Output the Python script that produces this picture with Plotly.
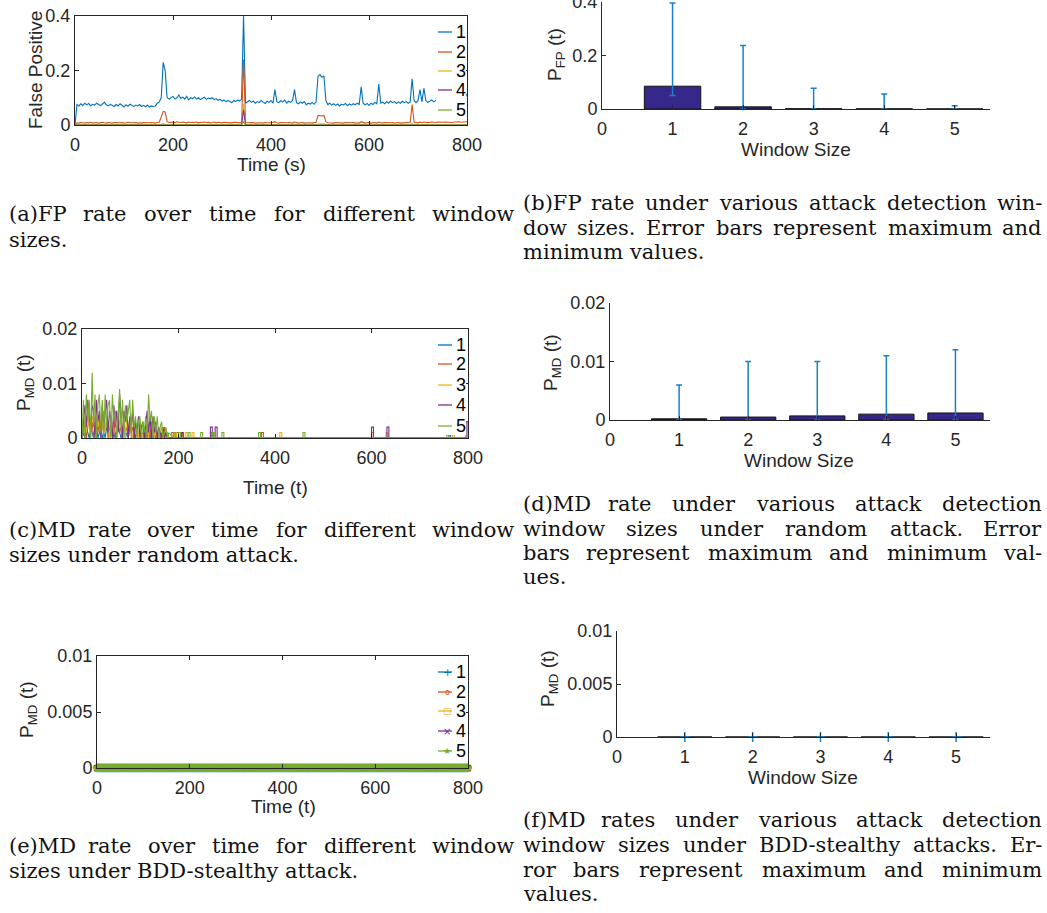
import plotly.graph_objects as go

# ---------------- DATA ----------------
# (a) false-positive rate over time, sampled every 4 s
t_a = list(range(0, 801, 4))
fp_w1 = [0.0, 0.075, 0.07, 0.078, 0.072, 0.08, 0.074, 0.079, 0.07, 0.076,
         0.073, 0.08, 0.075, 0.071, 0.077, 0.083, 0.074, 0.07, 0.076, 0.073,
         0.068, 0.075, 0.07, 0.078, 0.072, 0.066, 0.074, 0.069, 0.076, 0.071,
         0.068, 0.073, 0.07, 0.075, 0.068, 0.072, 0.067, 0.073, 0.066, 0.07,
         0.068, 0.07, 0.08, 0.085, 0.1, 0.23, 0.2, 0.1, 0.095, 0.1,
         0.105, 0.095, 0.1, 0.11, 0.098, 0.102, 0.095, 0.105, 0.092, 0.1,
         0.097, 0.103, 0.095, 0.1, 0.093, 0.098, 0.102, 0.094, 0.099, 0.096,
         0.1, 0.093, 0.097, 0.09, 0.095, 0.088, 0.092, 0.085, 0.09, 0.087,
         0.082, 0.09, 0.086, 0.092, 0.088, 0.095, 0.4, 0.08, 0.085, 0.09,
         0.083, 0.088, 0.08, 0.086, 0.082, 0.09, 0.084, 0.079, 0.087, 0.083,
         0.09, 0.08, 0.13, 0.085, 0.082, 0.09, 0.084, 0.092, 0.08, 0.087,
         0.083, 0.09, 0.13, 0.082, 0.078, 0.085, 0.08, 0.086, 0.074, 0.08,
         0.077, 0.083, 0.076, 0.085, 0.18, 0.185, 0.175, 0.18, 0.09, 0.075,
         0.08, 0.073, 0.078, 0.072, 0.077, 0.07, 0.076, 0.074, 0.079, 0.071,
         0.077, 0.073, 0.078, 0.074, 0.08, 0.075, 0.14, 0.08, 0.074, 0.079,
         0.072, 0.08, 0.075, 0.083, 0.078, 0.15, 0.08, 0.084, 0.078, 0.086,
         0.08, 0.088, 0.082, 0.086, 0.079, 0.085, 0.08, 0.087, 0.082, 0.086,
         0.08, 0.085, 0.17, 0.09, 0.082, 0.09, 0.13, 0.085, 0.135, 0.09,
         0.083, 0.088, 0.092, 0.085, 0.09, 0.095, 0.088, 0.09, 0.087, 0.092,
         0.089, 0.091, 0.088, 0.09, 0.093, 0.089, 0.091, 0.094, 0.09, 0.1,
         0.115]
fp_w2 = [0.0, 0.008, 0.007, 0.009, 0.008, 0.007, 0.009, 0.008, 0.01, 0.007,
         0.008, 0.009, 0.007, 0.008, 0.01, 0.008, 0.007, 0.009, 0.008, 0.007,
         0.009, 0.008, 0.007, 0.008, 0.009, 0.007, 0.008, 0.01, 0.008, 0.007,
         0.008, 0.009, 0.007, 0.008, 0.007, 0.009, 0.008, 0.007, 0.008, 0.009,
         0.008, 0.007, 0.009, 0.01, 0.03, 0.05, 0.048, 0.012, 0.009, 0.01,
         0.011, 0.009, 0.012, 0.01, 0.009, 0.011, 0.01, 0.008, 0.011, 0.009,
         0.01, 0.009, 0.011, 0.008, 0.01, 0.009, 0.011, 0.009, 0.01, 0.008,
         0.009, 0.011, 0.008, 0.01, 0.009, 0.008, 0.01, 0.009, 0.008, 0.009,
         0.008, 0.01, 0.009, 0.008, 0.009, 0.008, 0.24, 0.009, 0.008, 0.009,
         0.008, 0.009, 0.007, 0.008, 0.009, 0.008, 0.007, 0.009, 0.008, 0.007,
         0.008, 0.009, 0.012, 0.008, 0.007, 0.009, 0.008, 0.007, 0.008, 0.009,
         0.008, 0.007, 0.011, 0.008, 0.007, 0.008, 0.009, 0.007, 0.008, 0.007,
         0.008, 0.007, 0.009, 0.01, 0.035, 0.034, 0.033, 0.036, 0.012, 0.008,
         0.007, 0.008, 0.007, 0.009, 0.008, 0.007, 0.008, 0.007, 0.009, 0.008,
         0.007, 0.008, 0.009, 0.007, 0.008, 0.007, 0.012, 0.008, 0.007, 0.008,
         0.009, 0.007, 0.008, 0.009, 0.007, 0.011, 0.008, 0.007, 0.009, 0.008,
         0.007, 0.008, 0.009, 0.007, 0.008, 0.009, 0.007, 0.008, 0.009, 0.008,
         0.009, 0.01, 0.075, 0.01, 0.009, 0.008, 0.01, 0.009, 0.011, 0.009,
         0.01, 0.009, 0.011, 0.01, 0.009, 0.011, 0.01, 0.009, 0.01, 0.011,
         0.01, 0.011, 0.009, 0.01, 0.011, 0.01, 0.012, 0.01, 0.011, 0.012,
         0.012]
t_w3 = [0, 176, 180, 184, 340, 344, 348, 496, 500, 508, 512, 684, 688, 692, 800]
fp_w3 = [0.001, 0.001, 0.006, 0.001, 0.001, 0.077, 0.001, 0.001, 0.004, 0.004, 0.001, 0.001, 0.005, 0.001, 0.001]
t_w45 = [0, 340, 344, 348, 800]
fp_w4 = [0.0, 0.0, 0.056, 0.0, 0.0]
fp_w5 = [0.0, 0.0, 0.012, 0.0, 0.0]

window_sizes = [1, 2, 3, 4, 5]
window_ticks = [0, 1, 2, 3, 4, 5]

# (b) FP rate per window size: mean, max, min
fp_mean = [0.085, 0.008, 0.001, 0.0005, 0.0003]
fp_max = [0.395, 0.237, 0.077, 0.056, 0.012]
fp_min = [0.05, 0.0, 0.0, 0.0, 0.0]

# (c) MD rate under random attack, in thousandths; dense part sampled every 3 t (0..180)
md_dense_step = 3
md_w1_dense = [0, 1, 0, 2, 1, 0, 2, 1, 0, 1, 2, 0, 1, 2, 0, 1, 0, 2, 1, 0, 1, 2, 0, 1, 0, 2, 1, 0, 1, 2,
               0, 1, 0, 2, 1, 0, 1, 0, 2, 0, 1, 0, 1, 0, 2, 0, 1, 0, 1, 0, 1, 0, 0, 1, 0, 0, 1, 0, 0, 1, 0]
md_w2_dense = [0, 1, 3, 0, 2, 4, 1, 3, 0, 2, 4, 1, 3, 0, 2, 4, 1, 3, 0, 2, 3, 1, 4, 0, 2, 3, 1, 2, 0, 3,
               1, 2, 0, 3, 1, 2, 0, 2, 1, 0, 2, 1, 0, 2, 0, 1, 2, 0, 3, 1, 0, 2, 0, 1, 0, 1, 0, 2, 0, 1, 0]
md_w3_dense = [0, 2, 4, 1, 5, 2, 0, 4, 3, 1, 5, 2, 4, 0, 3, 5, 1, 4, 2, 0, 4, 1, 3, 5, 0, 4, 2, 5, 1, 3,
               0, 4, 2, 3, 1, 0, 3, 1, 2, 0, 3, 1, 0, 2, 1, 3, 0, 4, 1, 2, 0, 2, 1, 0, 1, 2, 0, 1, 0, 1, 0]
md_w4_dense = [0, 3, 6, 2, 7, 4, 1, 6, 5, 0, 7, 3, 5, 0, 6, 2, 4, 7, 1, 5, 3, 0, 6, 2, 5, 1, 8, 4, 0, 5,
               3, 6, 0, 4, 2, 5, 0, 3, 1, 4, 0, 2, 3, 0, 2, 5, 1, 4, 0, 4, 1, 3, 0, 2, 1, 0, 2, 0, 1, 0, 0]
md_w5_dense = [0, 7, 0, 8, 3, 7, 0, 12, 2, 8, 0, 6, 8, 1, 7, 0, 8, 2, 6, 7, 0, 8, 3, 5, 0, 6, 9, 1, 7, 0,
               6, 3, 5, 7, 0, 7, 2, 4, 0, 3, 4, 0, 3, 1, 4, 0, 8, 3, 5, 0, 4, 1, 4, 0, 2, 3, 0, 1, 2, 0, 1]
# sparse later blips: (t start, t end, value in thousandths)
md_w1_blips = [(196, 200, 1), (760, 764, 0.5)]
md_w2_blips = [(186, 190, 1), (204, 208, 1), (268, 272, 1), (372, 376, 1), (600, 604, 1)]
md_w3_blips = [(192, 196, 1), (214, 218, 1), (228, 232, 1), (410, 414, 1), (630, 634, 1), (768, 772, 0.5)]
md_w4_blips = [(206, 210, 1), (266, 270, 2), (276, 280, 2), (600, 604, 2), (632, 636, 2), (796, 800, 3)]
md_w5_blips = [(190, 194, 1), (200, 204, 1), (220, 224, 1), (246, 250, 1), (270, 274, 1), (290, 294, 1),
               (366, 370, 1), (458, 462, 1), (756, 760, 0.5)]

# (d) MD rate per window size under random attack
md_mean = [0.0002, 0.0005, 0.0007, 0.001, 0.0012]
md_max = [0.006, 0.010, 0.010, 0.011, 0.012]
md_min = [0.0, 0.0, 0.0, 0.0, 0.0]

# (e) MD rate under BDD-stealthy attack (all zero), sampled every 2 t
t_e = list(range(0, 801, 2))
bdd_zero = [0.0] * len(t_e)

# (f) MD rate per window size under BDD-stealthy attack
bdd_mean = [0.0, 0.0, 0.0, 0.0, 0.0]
bdd_max = [0.0, 0.0, 0.0, 0.0, 0.0]
bdd_min = [0.0, 0.0, 0.0, 0.0, 0.0]

series_labels = ["1", "2", "3", "4", "5"]

# ---------------- STYLE ----------------
W_IMG, H_IMG = 1047, 913
COLORS = ["#0072BD", "#D95319", "#EDB120", "#7E2F8E", "#77AC30"]
BAR_COLOR = "#35288a"
ERR_COLOR = "#1a80c8"
AX = "#262626"
SANS = "Liberation Sans, Arial, Helvetica, sans-serif"
SERIF = "DejaVu Serif, serif"
TICK_SIZE = 18
TITLE_SIZE = 19
CAP_SIZE = 21


def px(x):
    return x / W_IMG


def py(y):
    return 1 - y / H_IMG


fig = go.Figure()

# (a)
fig.add_trace(go.Scatter(x=t_a, y=fp_w1, mode="lines", line=dict(color=COLORS[0], width=1.1), xaxis="x", yaxis="y"))
fig.add_trace(go.Scatter(x=t_a, y=fp_w2, mode="lines", line=dict(color=COLORS[1], width=1.1), xaxis="x", yaxis="y"))
fig.add_trace(go.Scatter(x=t_w3, y=fp_w3, mode="lines", line=dict(color=COLORS[2], width=1.1), xaxis="x", yaxis="y"))
fig.add_trace(go.Scatter(x=t_w45, y=fp_w4, mode="lines", line=dict(color=COLORS[3], width=1.1), xaxis="x", yaxis="y"))
fig.add_trace(go.Scatter(x=t_w45, y=fp_w5, mode="lines", line=dict(color=COLORS[4], width=1.1), xaxis="x", yaxis="y"))


def err_bars(mean, mx, mn):
    plus = [a - b for a, b in zip(mx, mean)]
    minus = [b - c for b, c in zip(mean, mn)]
    return dict(type="data", symmetric=False, array=plus, arrayminus=minus,
                color=ERR_COLOR, thickness=1.5, width=3)


def bar_trace(mean, mx, mn, xa, ya):
    return go.Bar(x=window_sizes, y=mean, width=0.8, marker=dict(color=BAR_COLOR, line=dict(color="#111111", width=1)),
                  error_y=err_bars(mean, mx, mn), xaxis=xa, yaxis=ya, cliponaxis=False)


# (b)
fig.add_trace(bar_trace(fp_mean, fp_max, fp_min, "x2", "y2"))


# (c)
def md_series(dense, blips):
    xs = [md_dense_step * i for i in range(len(dense))]
    ys = [v / 1000 for v in dense]
    for a, b, v in blips:
        xs += [a, a, b, b]
        ys += [0, v / 1000, v / 1000, 0]
    if xs[-1] < 800:
        xs.append(800)
        ys.append(0)
    return xs, ys


for k, (dense, blips) in enumerate([(md_w1_dense, md_w1_blips), (md_w2_dense, md_w2_blips),
                                    (md_w3_dense, md_w3_blips), (md_w4_dense, md_w4_blips),
                                    (md_w5_dense, md_w5_blips)]):
    xs, ys = md_series(dense, blips)
    fig.add_trace(go.Scatter(x=xs, y=ys, mode="lines", line=dict(color=COLORS[k], width=1.1),
                             xaxis="x3", yaxis="y3"))

# (d)
fig.add_trace(bar_trace(md_mean, md_max, md_min, "x4", "y4"))

# (e)
SYMBOLS = ["cross-thin-open", "circle-open", "square-open", "x-thin-open", "star"]
for k in range(5):
    fig.add_trace(go.Scatter(x=t_e, y=bdd_zero, mode="lines+markers", cliponaxis=False,
                             line=dict(color=COLORS[k], width=1),
                             marker=dict(symbol=SYMBOLS[k], size=6, color=COLORS[k],
                                         line=dict(color=COLORS[k], width=1)),
                             xaxis="x5", yaxis="y5"))

# (f) zero-height bars; their zero-length error bars shown as small crosses
fig.add_trace(bar_trace(bdd_mean, bdd_max, bdd_min, "x6", "y6"))
fig.add_trace(go.Scatter(x=window_sizes, y=bdd_mean, mode="markers", cliponaxis=False,
                         marker=dict(symbol="cross-thin", size=7, line=dict(color=ERR_COLOR, width=1.5)),
                         xaxis="x6", yaxis="y6"))


# ---------------- AXES ----------------
def xaxis(dom, rng, tickvals, anchor, mirror):
    return dict(domain=[px(dom[0]), px(dom[1])], range=rng, tickvals=tickvals,
                ticktext=[str(v) for v in tickvals], anchor=anchor,
                ticks="inside", ticklen=4, tickwidth=1, tickcolor=AX,
                showline=True, linecolor=AX, linewidth=1, mirror=mirror,
                showgrid=False, zeroline=False, ticklabelstandoff=3, automargin=False,
                ticklabeloverflow="allow",
                tickfont=dict(family=SANS, size=TICK_SIZE, color=AX))


def yaxis(dom, rng, tickvals, ticktext, anchor, mirror):
    return dict(domain=[py(dom[1]), py(dom[0])], range=rng, tickvals=tickvals, ticktext=ticktext,
                anchor=anchor, ticks="inside", ticklen=4, tickwidth=1, tickcolor=AX,
                showline=True, linecolor=AX, linewidth=1, mirror=mirror,
                showgrid=False, zeroline=False, automargin=False, ticklabeloverflow="allow",
                tickfont=dict(family=SANS, size=TICK_SIZE, color=AX))


time_ticks = [0, 200, 400, 600, 800]
layout_axes = dict(
    xaxis=xaxis((75, 467), [0, 800], time_ticks, "y", "ticks"),
    yaxis=yaxis((16, 125), [0, 0.4], [0, 0.2, 0.4], ["0", "0.2", "0.4"], "x", "ticks"),
    xaxis2=xaxis((602, 990), [0, 5.5], window_ticks, "y2", False),
    yaxis2=yaxis((1.7, 109), [0, 0.4], [0, 0.2, 0.4], ["0", "0.2", "0.4"], "x2", False),
    xaxis3=xaxis((82, 468), [0, 800], time_ticks, "y3", "ticks"),
    yaxis3=yaxis((329, 438), [0, 0.02], [0, 0.01, 0.02], ["0", "0.01", "0.02"], "x3", "ticks"),
    xaxis4=xaxis((610, 990), [0, 5.5], window_ticks, "y4", False),
    yaxis4=yaxis((303, 420), [0, 0.02], [0, 0.01, 0.02], ["0", "0.01", "0.02"], "x4", False),
    xaxis5=xaxis((97, 468), [0, 800], time_ticks, "y5", "ticks"),
    yaxis5=yaxis((656, 768), [0, 0.01], [0, 0.005, 0.01], ["0", "0.005", "0.01"], "x5", "ticks"),
    xaxis6=xaxis((617, 990), [0, 5.5], window_ticks, "y6", False),
    yaxis6=yaxis((631, 737), [0, 0.01], [0, 0.005, 0.01], ["0", "0.005", "0.01"], "x6", False),
)

annotations = []
shapes = []


def label(x, y, text, angle=0, size=TITLE_SIZE):
    annotations.append(dict(x=px(x), y=py(y), xref="paper", yref="paper", text=text, showarrow=False,
                            textangle=angle, xanchor="center", yanchor="middle",
                            font=dict(family=SANS, size=size, color=AX)))


# axis titles
label(271, 164, "Time (s)")
label(35, 70, "False Positive", -90)
label(796, 150, "Window Size")
label(556, 55, "P<sub>FP</sub> (t)", -90)
label(275, 488, "Time (t)")
label(25, 383, "P<sub>MD</sub> (t)", -90)
label(799, 460, "Window Size")
label(552, 362, "P<sub>MD</sub> (t)", -90)
label(283, 806, "Time (t)")
label(28, 710, "P<sub>MD</sub> (t)", -90)
label(803, 777, "Window Size")
label(549, 679, "P<sub>MD</sub> (t)", -90)


# legends (drawn inside the axes, MATLAB style)
def legend(box, ys, glyphs=None):
    x0, y0, x1, y1 = box
    shapes.append(dict(type="rect", xref="paper", yref="paper", x0=px(x0), x1=px(x1), y0=py(y1), y1=py(y0),
                       fillcolor="white", line=dict(width=0), layer="above"))
    for k, yy in enumerate(ys):
        shapes.append(dict(type="line", xref="paper", yref="paper", x0=px(438), x1=px(452), y0=py(yy), y1=py(yy),
                           line=dict(color=COLORS[k], width=1.3), layer="above"))
        annotations.append(dict(x=px(454), y=py(yy), xref="paper", yref="paper", text=series_labels[k],
                                showarrow=False, xanchor="left", yanchor="middle",
                                font=dict(family=SANS, size=TICK_SIZE, color="#000000")))
        if glyphs:
            g, s = glyphs[k]
            annotations.append(dict(x=px(447), y=py(yy), xref="paper", yref="paper", text=g,
                                    showarrow=False, xanchor="center", yanchor="middle",
                                    font=dict(family="DejaVu Sans", size=s, color=COLORS[k])))


legend((436, 20, 466, 119), [32, 52, 71, 90, 110])
legend((436, 333, 466, 435), [345, 364, 385, 405, 426])
legend((436, 660, 466, 758), [672, 692, 711, 731, 751],
       glyphs=[("+", 11), ("o", 8), ("□", 9), ("×", 10), ("★", 9)])

# captions (justified like the original typesetting); approximate serif advance widths per 1000 em
TW = {' ': 318, '(': 390, ')': 390, '-': 338, '.': 318, ',': 318,
      'a': 596, 'b': 640, 'c': 560, 'd': 640, 'e': 592, 'f': 370, 'g': 640, 'h': 644, 'i': 320, 'j': 310,
      'k': 606, 'l': 320, 'm': 948, 'n': 644, 'o': 602, 'p': 640, 'q': 640, 'r': 478, 's': 513, 't': 402,
      'u': 644, 'v': 565, 'w': 856, 'x': 564, 'y': 565, 'z': 527,
      'B': 733, 'D': 770, 'E': 730, 'F': 694, 'M': 872, 'P': 653, 'S': 650}


def tw(s):
    return sum(TW.get(ch, 600) for ch in s) * CAP_SIZE / 1000


def cap_annot(x, y, text, anchor):
    annotations.append(dict(x=px(x), y=py(y), xref="paper", yref="paper", text=text, showarrow=False,
                            xanchor=anchor, yanchor="middle", borderpad=0,
                            font=dict(family=SERIF, size=CAP_SIZE, color="#111111")))


def caption(lines, x0, x1):
    for text, y, justify in lines:
        if not justify:
            cap_annot(x0, y, text, "left")
            continue
        words = text.split(" ")
        widths = [tw(w) for w in words]
        gap = (x1 - x0 - sum(widths)) / (len(words) - 1)
        x = x0
        for i, (w, wd) in enumerate(zip(words, widths)):
            if i == 0:
                cap_annot(x0, y, w, "left")
            elif i == len(words) - 1:
                cap_annot(x1, y, w, "right")
            else:
                cap_annot(x + wd / 2, y, w, "center")
            x += wd + gap


caption([("(a)FP rate over time for different window", 214, True), ("sizes.", 240, False)], 8, 515)
caption([("(c)MD rate over time for different window", 530, True),
         ("sizes under random attack.", 555, False)], 8, 515)
caption([("(e)MD rate over time for different window", 846, True),
         ("sizes under BDD-stealthy attack.", 871, False)], 8, 515)
caption([("(b)FP rate under various attack detection win-", 203, True),
         ("dow sizes. Error bars represent maximum and", 228, True),
         ("minimum values.", 252, False)], 522, 1043)
caption([("(d)MD rate under various attack detection", 504, True),
         ("window sizes under random attack. Error", 529, True),
         ("bars represent maximum and minimum val-", 553, True),
         ("ues.", 577, False)], 522, 1043)
caption([("(f)MD rates under various attack detection", 820, True),
         ("window sizes under BDD-stealthy attacks. Er-", 845, True),
         ("ror bars represent maximum and minimum", 870, True),
         ("values.", 894, False)], 522, 1043)

fig.update_layout(
    width=W_IMG, height=H_IMG, autosize=False,
    margin=dict(l=0, r=0, t=0, b=0, pad=0, autoexpand=False),
    paper_bgcolor="white", plot_bgcolor="white",
    showlegend=False, bargap=0.2,
    annotations=annotations, shapes=shapes,
    **layout_axes,
)

fig.write_html("out.html")
